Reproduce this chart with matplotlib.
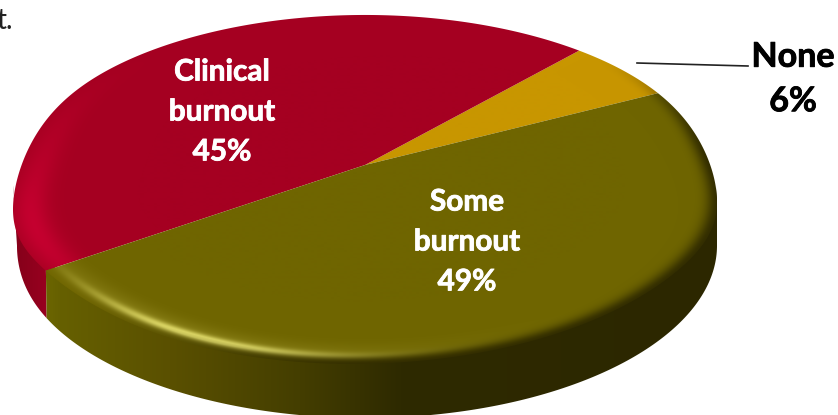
#coding:utf-8

# 3D looking pie, burnout shares

import numpy as np
from matplotlib import pyplot as plt
from matplotlib import patheffects
from matplotlib.patches import Polygon
from matplotlib.colors import to_rgb

labels = ['None', 'Clinical\nburnout', 'Some\nburnout']
pct_labels = ['6%', '45%', '49%']
values = [5.7, 45.5, 48.8]
base_colors = ['#c89600', '#a50021', '#6f6500']
light_colors = ['#d8a810', '#c60030', '#e6e06a']
dark_colors = ['#5a4300', '#7a0018', '#2d2800']

W, H = 838, 415
CX, CY = 365, 165     # apex of the slices, in pixels
A, B, K = 349.0, 169.6, 0.1304   # disc size and perspective
DEPTH = 58
START = 27.2


def angdiff(t, c):
    return (t - c + 180) % 360 - 180


def rim_offset(t):
    # the bevel pushes the rim lower near both ends of the front edge
    off = 20 * np.exp(-(angdiff(t, 187) / 22) ** 2)
    off = off + 14 * np.exp(-(angdiff(t, 353) / 22) ** 2)
    return off + 6 * np.exp(-(angdiff(t, 235) / 40) ** 2) + 1 * np.exp(-(angdiff(t, 270) / 70) ** 2)


def project(t):
    # disc angle (deg) to pixel position
    a = np.radians(t)
    w = 1 + K * np.sin(a)
    return CX + A * np.cos(a) / w, CY - B * np.sin(a) / w


def disc_coords(px, py):
    # inverse of project, for whole pixel grid
    xp = px - CX
    yp = CY - py
    y = yp / (B - K * yp)
    w = 1 + K * y
    x = xp * w / A
    return np.hypot(x, y), np.degrees(np.arctan2(y, x)) % 360


def smooth(x):
    x = np.clip(x, 0, 1)
    return x * x * (3 - 2 * x)


def top_image(r, t, idx):
    base = np.array(to_rgb(base_colors[idx]))
    light = np.array(to_rgb(light_colors[idx]))
    dark = np.array(to_rgb(dark_colors[idx]))
    e = 1 - r
    if idx == 1:
        # soft bright band on the left of the red slice
        lit = np.exp(-((e - 0.05) / 0.05) ** 2) * np.exp(-(angdiff(t, 196) / 32) ** 2) * 0.95
    elif idx == 2:
        # thin highlight along the front rim
        lit = np.exp(-((e - 0.036) / 0.016) ** 2) * np.exp(-(angdiff(t, 246) / 22) ** 2)
        lit = lit + np.exp(-((e - 0.05) / 0.04) ** 2) * np.exp(-(angdiff(t, 240) / 38) ** 2) * 0.16
    else:
        lit = np.zeros_like(r)
    lit = np.clip(lit, 0, 1)[..., None]
    # dark rim, strong on the right and lower right
    strength = 0.9 * smooth((angdiff(t, 310) + 95) / 60) * smooth((95 - angdiff(t, 310)) / 40)
    rim = (strength * np.exp(-(e / 0.032) ** 2))[..., None]
    img = base * (1 - lit) + light * lit
    return np.clip(img * (1 - rim) + dark * rim, 0, 1)


def side_color(px, idx):
    xs = [15, 50, 60, 170, 300, 400, 720]
    if idx == 1:
        names = ['#85001a', '#9a0020', '#9a0020', '#9a0020', '#9a0020', '#9a0020', '#9a0020']
    else:
        names = ['#6a6400', '#6a6400', '#666000', '#5a5000', '#443e00', '#2e2a00', '#2c2700']
    stops = np.array([to_rgb(c) for c in names])
    return np.stack([np.interp(px, xs, stops[:, i]) for i in range(3)], axis=-1)


fig = plt.figure(figsize=(W / 100, H / 100), dpi=100)
ax = fig.add_axes([0, 0, 1, 1])

# slice angles come from the values through pie()
wedges, _ = ax.pie(values, startangle=START, counterclock=True)
angles = [(w.theta1, w.theta2) for w in wedges]
for w in wedges:
    w.remove()

ax.set_aspect('auto')
ax.axis('off')

px, py = np.meshgrid(np.arange(W) + 0.5, np.arange(H) + 0.5)
r0, t0 = disc_coords(px, py)
mask_off = rim_offset(t0)
r, t = disc_coords(px, py - mask_off)
t_left = 180 + np.degrees(np.arcsin(K))
t_right = 360 - np.degrees(np.arcsin(K))

# side wall first
for i, (t1, t2) in enumerate(angles):
    lo = max(t1, t_left)
    hi = min(t2, t_right)
    if hi <= lo:
        continue
    tt = np.linspace(lo, hi, 200)
    x, y = project(tt)
    # wall bottom tucks in a little on the left
    xb = x + 4 * np.exp(-(angdiff(tt, 187) / 20) ** 2)
    pts = np.column_stack([np.r_[x, xb[::-1]], np.r_[y - 2, y[::-1] + DEPTH]])
    patch = Polygon(pts, closed=True, fc='none', ec='none')
    ax.add_patch(patch)
    im = ax.imshow(side_color(px, i), extent=(0, W, H, 0), aspect='auto', interpolation='bilinear')
    im.set_clip_path(patch)

# top face
for i, (t1, t2) in enumerate(angles):
    tt = np.linspace(t1, t2, 300)
    x, y = project(tt)
    y = y + rim_offset(tt)
    pts = np.column_stack([np.r_[CX, x], np.r_[CY, y]])
    patch = Polygon(pts, closed=True, fc='none', ec='none')
    ax.add_patch(patch)
    im = ax.imshow(top_image(r, t, i), extent=(0, W, H, 0), aspect='auto', interpolation='bilinear')
    im.set_clip_path(patch)

ax.set_xlim(0, W)
ax.set_ylim(H, 0)

white = dict(family='Lato', fontweight='bold', fontsize=21.4, ha='center', va='center', linespacing=1.52, color='white')
heavy_w = [patheffects.withStroke(linewidth=0.6, foreground='white')]
heavy_k = [patheffects.withStroke(linewidth=0.6, foreground='black')]
ax.text(222, 111.5, labels[1] + '\n' + pct_labels[1], path_effects=heavy_w, **white)
ax.text(467, 241.5, labels[2] + '\n' + pct_labels[2], path_effects=heavy_w, **white)
ax.text(793, 79, labels[0] + '\n' + pct_labels[0], family='Lato', fontweight='bold',
        fontsize=24.5, ha='center', va='center', linespacing=1.48, color='black', path_effects=heavy_k)
ax.plot([637, 748], [63, 66], color='#222222', lw=1.2)
ax.text(13, 21, 't.', family='Lato', fontsize=20, ha='right', va='center', color='#222222')

fig.savefig('out.png', dpi=100)
